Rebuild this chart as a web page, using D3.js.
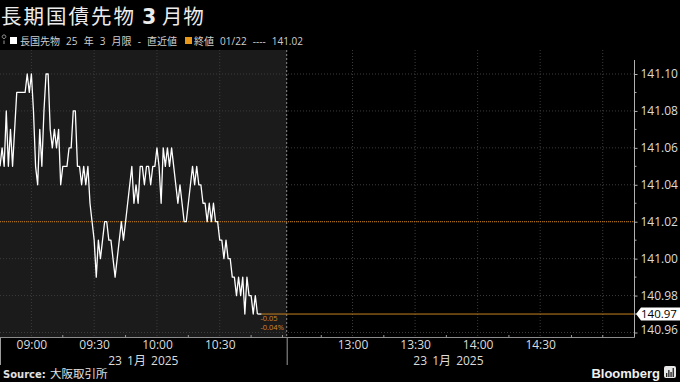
<!DOCTYPE html>
<html>
<head>
<meta charset="utf-8">
<script src="https://cdn.jsdelivr.net/npm/d3@7"></script>
<style>
  body { margin: 0; background: #000; }
  svg { display: block; }
</style>
</head>
<body>
<div id="chart"></div>
<script>
// --- data ---
const startTime = "08:45";           // first print, one value per minute after it
const prices = [
  141.05, 141.06, 141.05, 141.08, 141.05, 141.07, 141.05, 141.07, 141.09, 141.09,
  141.09, 141.09, 141.09, 141.10, 141.09, 141.10, 141.08, 141.05, 141.04, 141.07,
  141.05, 141.08, 141.10, 141.10, 141.07, 141.06, 141.07, 141.06, 141.07, 141.04,
  141.05, 141.05, 141.05, 141.06, 141.06, 141.08, 141.08, 141.05, 141.05, 141.04,
  141.05, 141.04, 141.05, 141.03, 141.02, 141.01, 140.99, 141.01, 141.00, 141.01,
  141.02, 141.02, 141.01, 141.01, 141.00, 140.99, 141.00, 141.01, 141.02, 141.01,
  141.02, 141.03, 141.04, 141.05, 141.03, 141.04, 141.03, 141.05, 141.05, 141.04,
  141.05, 141.05, 141.04, 141.05, 141.05, 141.06, 141.05, 141.03, 141.06, 141.05,
  141.06, 141.05, 141.06, 141.05, 141.04, 141.03, 141.04, 141.03, 141.02, 141.02,
  141.03, 141.04, 141.05, 141.04, 141.05, 141.04, 141.04, 141.03, 141.03, 141.02,
  141.03, 141.02, 141.03, 141.02, 141.02, 141.01, 141.01, 141.00, 141.01, 141.00,
  141.00, 140.99, 140.99, 140.98, 140.99, 140.98, 140.99, 140.97, 140.99, 140.98,
  140.98, 140.97, 140.98, 140.97
];
const prevClose = 141.02;
const changeLabels = ["-0.05", "-0.04%"];

const sessions = [["08:45", "11:02"], ["12:30", "15:02"]];
const axisEnd = "15:15";
const xTickLabels = ["09:00", "09:30", "10:00", "10:30", "13:00", "13:30", "14:00", "14:30"];
const xGridOnly = ["15:00"];
const xMinorTicks = ["09:15", "09:45", "10:15", "10:45", "11:00", "12:45", "13:15", "13:45", "14:15", "14:45", "15:00"];
const dateLabel = "23 1月 2025";
const yTicks = [140.96, 140.98, 141.00, 141.02, 141.04, 141.06, 141.08, 141.10];
const yMinorTicks = [140.97, 140.99, 141.01, 141.03, 141.05, 141.07, 141.09];

const W = 680, H = 382;
const margin = { top: 50, right: 46, bottom: 45, left: 0 };
const plotW = W - margin.left - margin.right;
const plotB = H - margin.bottom;

const parse = d3.timeParse("%H:%M");
const t0 = parse(startTime);
const data = prices.map((p, i) => ({ time: d3.timeMinute.offset(t0, i), price: p }));

const svg = d3.select("#chart").append("svg")
  .attr("width", W)
  .attr("height", H)
  .style("background", "#000");

// piecewise time scale: lunch break squeezed out
const x = d3.scaleTime()
  .domain([parse(sessions[0][0]), parse(sessions[0][1]), parse(sessions[1][0]), parse(axisEnd)])
  .range([margin.left, 286.7, 290, plotW]);

const y = d3.scaleLinear()
  .domain([140.96, 141.10])
  .range([332.5, 74]);

const sans = "'Open Sans', 'Noto Sans CJK JP', sans-serif";
const cjk = "'Noto Sans CJK JP', 'Noto Sans', sans-serif";

// title
const title = svg.append("text")
  .attr("y", 24)
  .attr("fill", "#ececec")
  .style("font-family", cjk)
  .style("font-size", "20.5px");
title.append("tspan").attr("x", 1).style("letter-spacing", "2px").text("長期国債先物");
title.append("tspan").attr("x", 142).style("font-weight", "bold").style("font-family", "'DejaVu Sans', sans-serif").text("3");
title.append("tspan").attr("x", 162).style("letter-spacing", "0.8px").text("月物");

// legend
const legend = svg.append("g").style("font-family", sans).style("font-size", "10px").style("word-spacing", "3.5px");
legend.append("path").attr("d", "M4,38.5 a1.8,1.8 0 1,1 0.01,0 M4,40.5 V44").attr("stroke", "#999").attr("fill", "none");
legend.append("rect").attr("x", 10).attr("y", 37).attr("width", 7).attr("height", 7).attr("fill", "#fff");
legend.append("text").attr("x", 20).attr("y", 45).attr("fill", "#cfcfcf").text("長国先物 25 年 3 月限 - 直近値");
legend.append("rect").attr("x", 185).attr("y", 37).attr("width", 7).attr("height", 7).attr("fill", "#e8971d");
legend.append("text").attr("x", 194).attr("y", 45).attr("fill", "#cfcfcf").text("終値 01/22 ---- 141.02");

// morning session panel
svg.append("rect")
  .attr("x", x(parse(sessions[0][0])))
  .attr("y", margin.top)
  .attr("width", x(parse(sessions[0][1])) - x(parse(sessions[0][0])))
  .attr("height", plotB - margin.top)
  .attr("fill", "#1b1b1b");

// gridlines
svg.append("g").selectAll("line").data(yTicks).join("line")
  .attr("x1", margin.left).attr("x2", plotW)
  .attr("y1", d => y(d)).attr("y2", d => y(d))
  .attr("stroke", "#3c3c3c").attr("stroke-dasharray", "1,2");

svg.append("g").selectAll("line").data(xTickLabels.concat(xGridOnly)).join("line")
  .attr("x1", d => x(parse(d))).attr("x2", d => x(parse(d)))
  .attr("y1", margin.top).attr("y2", plotB)
  .attr("stroke", "#3c3c3c").attr("stroke-dasharray", "1,2");

// session break
svg.append("line")
  .attr("x1", x(parse(sessions[0][1]))).attr("x2", x(parse(sessions[0][1])))
  .attr("y1", margin.top).attr("y2", plotB)
  .attr("stroke", "#8a8a8a").attr("stroke-dasharray", "2,2");
svg.append("g").selectAll("line").data([sessions[0][0], sessions[0][1]]).join("line")
  .attr("x1", d => x(parse(d)) + 0.5).attr("x2", d => x(parse(d)) + 0.5)
  .attr("y1", plotB).attr("y2", 365)
  .attr("stroke", "#9a9a9a");

// previous close
svg.append("line")
  .attr("x1", margin.left).attr("x2", plotW)
  .attr("y1", y(prevClose)).attr("y2", y(prevClose))
  .attr("stroke", "#c8811f").attr("stroke-dasharray", "1,1");

// price line
svg.append("path")
  .datum(data)
  .attr("fill", "none")
  .attr("stroke", "#ffffff")
  .attr("stroke-width", 1.3)
  .attr("stroke-linejoin", "round")
  .attr("d", d3.line()
    .x(d => x(d.time))
    .y(d => y(d.price)));

// last value line + change
const last = data[data.length - 1];
svg.append("line")
  .attr("x1", x(last.time) + 4).attr("x2", plotW)
  .attr("y1", y(last.price)).attr("y2", y(last.price))
  .attr("stroke", "#c8811f");
svg.append("line")
  .attr("x1", x(last.time)).attr("x2", x(last.time) + 4)
  .attr("y1", y(last.price)).attr("y2", y(last.price))
  .attr("stroke", "#fff").attr("stroke-width", 1.3);
svg.append("g").selectAll("text").data(changeLabels).join("text")
  .attr("x", x(last.time) + 3)
  .attr("y", (d, i) => y(last.price) + 7 + i * 9)
  .attr("fill", "#d08a2a")
  .style("font-family", sans)
  .style("font-size", "7.5px")
  .text(d => d);

// axes lines
svg.append("line")
  .attr("x1", margin.left).attr("x2", plotW + 0.5)
  .attr("y1", plotB + 0.5).attr("y2", plotB + 0.5)
  .attr("stroke", "#8c8c8c");
svg.append("line")
  .attr("x1", plotW + 0.5).attr("x2", plotW + 0.5)
  .attr("y1", margin.top + 10).attr("y2", plotB + 0.5)
  .attr("stroke", "#b0b0b0");

// y axis
const yAxis = svg.append("g")
  .attr("transform", `translate(${plotW + 0.5},0)`)
  .call(d3.axisRight(y).tickValues(yTicks).tickSize(3).tickFormat(d3.format(".2f")));
yAxis.select(".domain").remove();
yAxis.selectAll(".tick line").attr("stroke", "#b0b0b0");
yAxis.selectAll(".tick text")
  .attr("x", 6)
  .attr("fill", "#dcdcdc")
  .style("font-family", sans)
  .style("font-size", "12px")
  .attr("transform", d => `translate(0,${Math.min(0, 329.5 - y(d))})`);
svg.append("g").selectAll("line").data(yMinorTicks).join("line")
  .attr("x1", plotW).attr("x2", plotW + 2.5)
  .attr("y1", d => y(d)).attr("y2", d => y(d))
  .attr("stroke", "#b0b0b0");

// last price tag
const tagY = y(last.price);
svg.append("path")
  .attr("d", `M${plotW + 2},${tagY} L${plotW + 7},${tagY - 6.5} H${W} V${tagY + 6.5} H${plotW + 7} Z`)
  .attr("fill", "#fff");
svg.append("text")
  .attr("x", plotW + 7).attr("y", tagY)
  .attr("dy", "0.35em")
  .attr("fill", "#000")
  .style("font-family", sans)
  .style("font-size", "11.5px")
  .text(d3.format(".2f")(last.price));

// x axis
const xAxis = svg.append("g")
  .attr("transform", `translate(0,${plotB})`)
  .call(d3.axisBottom(x).tickValues(xTickLabels.map(parse)).tickSize(0).tickPadding(3).tickFormat(d3.timeFormat("%H:%M")));
xAxis.select(".domain").remove();
xAxis.selectAll(".tick text")
  .attr("fill", "#dcdcdc")
  .style("font-family", sans)
  .style("font-size", "12px");
svg.append("g").selectAll("line").data(xMinorTicks).join("line")
  .attr("x1", d => x(parse(d))).attr("x2", d => x(parse(d)))
  .attr("y1", plotB - 2).attr("y2", plotB + 0.5)
  .attr("stroke", "#9a9a9a");

svg.append("g").selectAll("text").data(sessions).join("text")
  .attr("x", d => (x(parse(d[0])) + x(parse(d[1]))) / 2)
  .attr("y", 364.5)
  .attr("text-anchor", "middle")
  .attr("fill", "#dcdcdc")
  .style("font-family", sans)
  .style("font-size", "12px")
  .style("word-spacing", "2px")
  .text(dateLabel);

// footer
const src = svg.append("text")
  .attr("y", 378)
  .attr("fill", "#e0e0e0");
src.append("tspan").attr("x", 3).style("font-family", "'DejaVu Sans', sans-serif").style("font-weight", "bold").style("font-size", "10px").text("Source:");
src.append("tspan").attr("x", 50).style("font-family", cjk).style("font-size", "11.5px").text("大阪取引所");

svg.append("text")
  .attr("x", 660).attr("y", 378)
  .attr("text-anchor", "end")
  .attr("fill", "#f0f0f0")
  .style("font-family", "'Liberation Sans', Arial, sans-serif")
  .style("font-weight", "bold")
  .style("font-size", "13px")
  .text("Bloomberg");
const logo = svg.append("g").attr("transform", "translate(664,366)");
logo.append("rect").attr("width", 12).attr("height", 12).attr("rx", 2).attr("fill", "#e6e6e6");
logo.selectAll("rect.bar").data([4, 7, 5, 9]).join("rect")
  .attr("class", "bar")
  .attr("x", (d, i) => 2 + i * 2.2)
  .attr("y", d => 11 - d)
  .attr("width", 1.3)
  .attr("height", d => d)
  .attr("fill", "#222");
</script>
</body>
</html>
